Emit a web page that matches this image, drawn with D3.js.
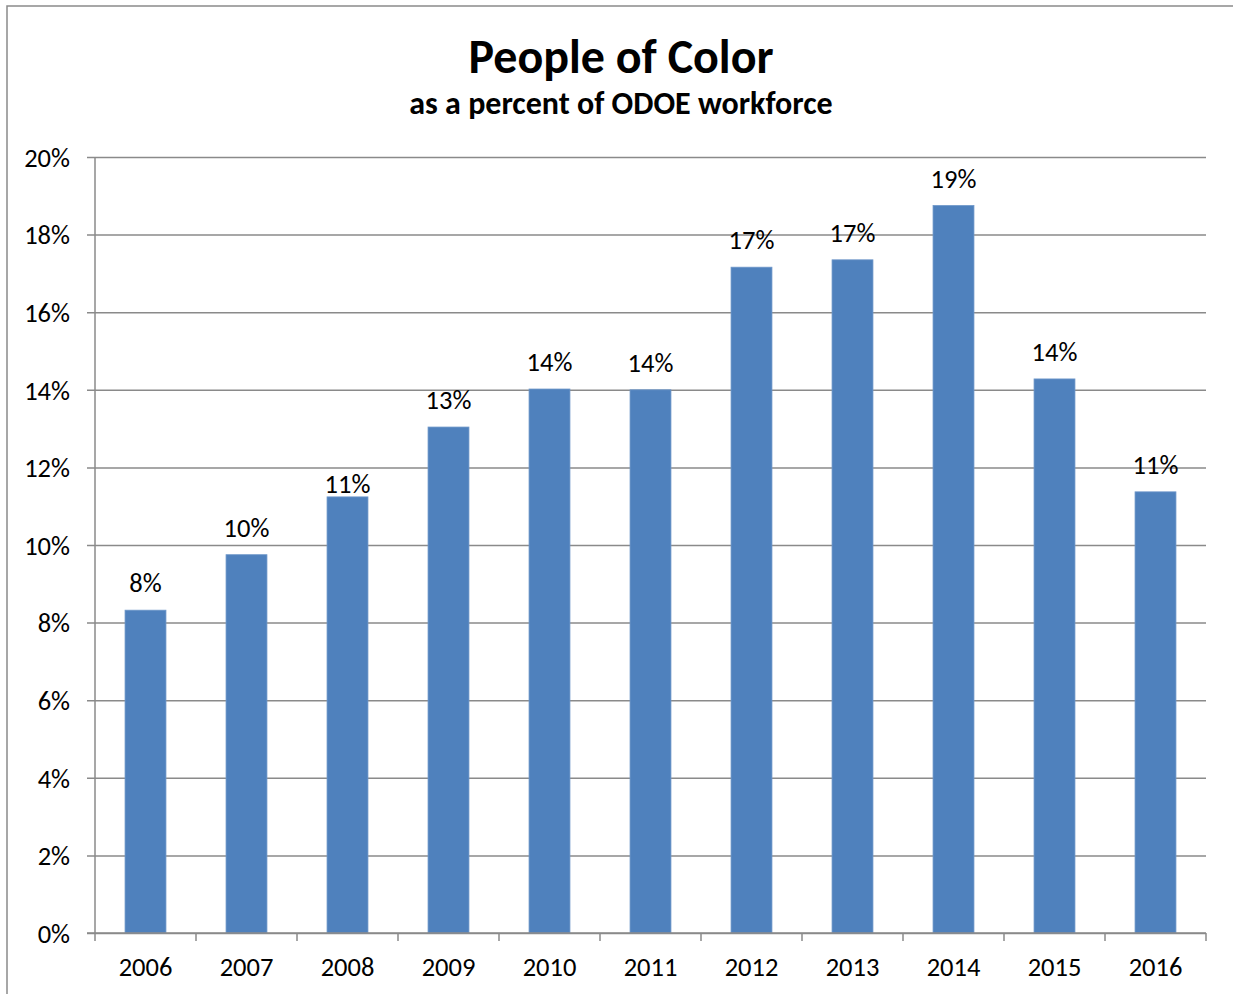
<!DOCTYPE html>
<html>
<head>
<meta charset="utf-8">
<script src="https://cdn.jsdelivr.net/npm/d3@7"></script>
<style>
  html, body { margin: 0; padding: 0; background: #fff; }
  svg { display: block; }
  text { font-family: Carlito, Lato, "Open Sans", sans-serif; fill: #000; }
</style>
</head>
<body>
<svg id="chart" width="1233" height="994"></svg>
<script>
// Share of people of color in the ODOE workforce, by year
const years = ["2006", "2007", "2008", "2009", "2010", "2011", "2012", "2013", "2014", "2015", "2016"];
const shares = [0.0832, 0.0975, 0.1124, 0.1304, 0.1402, 0.1400, 0.1716, 0.1735, 0.1875, 0.1428, 0.1137];
const yTicks = [0, 0.02, 0.04, 0.06, 0.08, 0.10, 0.12, 0.14, 0.16, 0.18, 0.20];

const svg = d3.select("#chart");
const W = 1233, H = 994;
const plot = { left: 95, right: 1206, top: 157, bottom: 933 };
const fmt = d3.format(".0%");

// outer chart frame
svg.append("rect")
  .attr("x", 7).attr("y", 6)
  .attr("width", W + 10).attr("height", H + 10)
  .attr("fill", "#fff")
  .attr("stroke", "#8a8a8a").attr("stroke-width", 1.5);

// titles
svg.append("text")
  .attr("x", 621).attr("y", 73)
  .attr("text-anchor", "middle")
  .style("font-size", "48px").style("font-weight", "bold")
  .text("People of Color");
svg.append("text")
  .attr("x", 621).attr("y", 114)
  .attr("text-anchor", "middle")
  .style("font-size", "32px").style("font-weight", "bold")
  .text("as a percent of ODOE workforce");

const p = 0.595;
const x = d3.scaleBand()
  .domain(years)
  .range([plot.left, plot.right])
  .paddingInner(p)
  .paddingOuter(p / 2);

const y = d3.scaleLinear()
  .domain([0, 0.20])
  .range([plot.bottom, plot.top]);

// horizontal gridlines with left axis
const yAxis = d3.axisLeft(y)
  .tickValues(yTicks)
  .tickFormat(fmt)
  .tickSize(-(plot.right - plot.left))
  .tickPadding(25);

const gy = svg.append("g")
  .attr("transform", `translate(${plot.left},0)`)
  .call(yAxis);
gy.select(".domain").remove();
gy.selectAll(".tick line")
  .attr("x1", -8)
  .attr("stroke", "#8a8a8a").attr("stroke-width", 1.5);
gy.selectAll(".tick text")
  .style("font-size", "26.5px")
  .attr("dy", "0.35em");

// vertical axis line
svg.append("line")
  .attr("x1", plot.left).attr("x2", plot.left)
  .attr("y1", plot.top).attr("y2", plot.bottom)
  .attr("stroke", "#8a8a8a").attr("stroke-width", 1.5);

const rows = years.map((yr, i) => ({ yr, v: shares[i] }));

// bars
svg.append("g").selectAll("rect")
  .data(rows)
  .join("rect")
  .attr("x", d => x(d.yr))
  .attr("y", d => y(d.v))
  .attr("width", x.bandwidth())
  .attr("height", d => y(0) - y(d.v))
  .attr("fill", "#4f81bd")
  .attr("stroke", "#6e97c9").attr("stroke-width", 0.8);

// value labels; the 2008 label sits lower, tucked under the 12% gridline
const labelGap = { "2008": 4 };
svg.append("g").selectAll("text")
  .data(rows)
  .join("text")
  .attr("x", d => x(d.yr) + x.bandwidth() / 2)
  .attr("y", d => y(d.v) - (labelGap[d.yr] ?? 18))
  .attr("text-anchor", "middle")
  .style("font-size", "26.5px")
  .text(d => fmt(d.v));

// category axis at the bottom
const step = x.step();
const boundaries = d3.range(years.length + 1).map(i => plot.left + i * step);
const gx = svg.append("g");
gx.append("line")
  .attr("x1", plot.left - 8).attr("x2", plot.right)
  .attr("y1", plot.bottom).attr("y2", plot.bottom)
  .attr("stroke", "#8a8a8a").attr("stroke-width", 1.5);
gx.selectAll("line.tick")
  .data(boundaries)
  .join("line")
  .attr("class", "tick")
  .attr("x1", d => d).attr("x2", d => d)
  .attr("y1", plot.bottom).attr("y2", plot.bottom + 8)
  .attr("stroke", "#8a8a8a").attr("stroke-width", 1.5);
gx.selectAll("text")
  .data(years)
  .join("text")
  .attr("x", d => x(d) + x.bandwidth() / 2)
  .attr("y", plot.bottom + 43)
  .attr("text-anchor", "middle")
  .style("font-size", "26.5px")
  .text(d => d);
</script>
</body>
</html>
